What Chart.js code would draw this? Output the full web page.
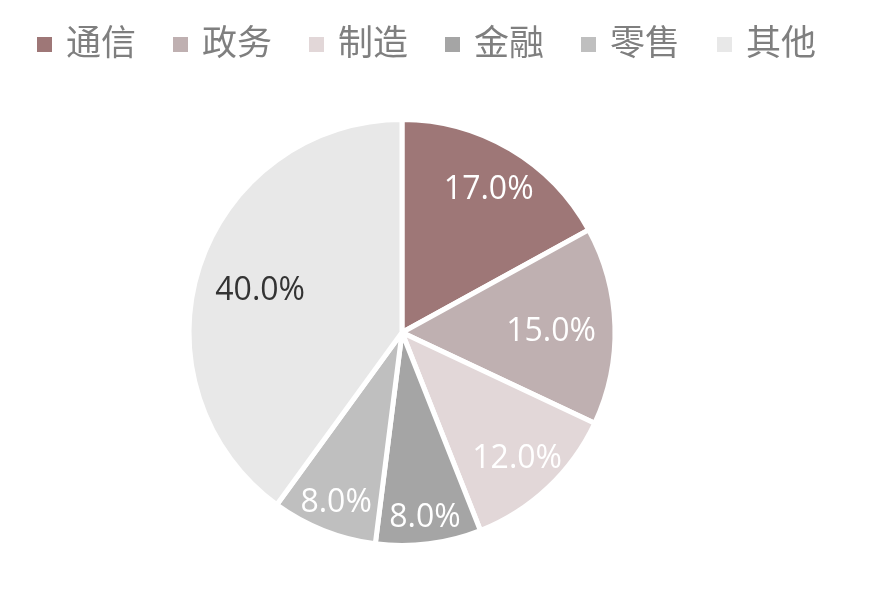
<!DOCTYPE html>
<html>
<head>
<meta charset="utf-8">
<script src="https://cdn.jsdelivr.net/npm/chart.js@4"></script>
<style>
  html, body { margin: 0; padding: 0; background: #fff; }
  #wrap { width: 880px; height: 596px; }
</style>
</head>
<body>
<div id="wrap"><canvas id="pie"></canvas></div>
<script>
const categories = ["通信", "政务", "制造", "金融", "零售", "其他"];
const shares = [17.0, 15.0, 12.0, 8.0, 8.0, 40.0];

const sliceColors = ["#9e7777", "#bfb0b1", "#e2d7d8", "#a5a5a5", "#bfbfbf", "#e8e8e8"];
const labelColors = ["#ffffff", "#ffffff", "#ffffff", "#ffffff", "#ffffff", "#333333"];
// how far out each label sits, as a share of the radius
const labelRadius = [0.8, 0.7, 0.79, 0.86, 0.84, 0.7];

// legend drawn by hand so it stays on one row like the original
const topLegend = {
  id: "topLegend",
  afterDraw(chart) {
    const ctx = chart.ctx;
    ctx.save();
    ctx.font = '35px "Noto Sans CJK SC", sans-serif';
    ctx.textBaseline = "middle";
    let x = 37;
    categories.forEach((name, i) => {
      ctx.fillStyle = sliceColors[i];
      ctx.fillRect(x, 37, 15, 15);
      ctx.fillStyle = "#7f7f7f";
      ctx.fillText(name, x + 29, 42);
      x += 29 + ctx.measureText(name).width + 37;
    });
    ctx.restore();
  }
};

const sliceLabels = {
  id: "sliceLabels",
  afterDatasetsDraw(chart) {
    const ctx = chart.ctx;
    const arcs = chart.getDatasetMeta(0).data;
    ctx.save();
    ctx.font = '32px "Open Sans", sans-serif';
    ctx.textAlign = "center";
    ctx.textBaseline = "middle";
    arcs.forEach((arc, i) => {
      const { x, y, startAngle, endAngle, outerRadius } = arc.getProps(["x", "y", "startAngle", "endAngle", "outerRadius"], true);
      const mid = (startAngle + endAngle) / 2;
      const r = outerRadius * labelRadius[i];
      ctx.fillStyle = labelColors[i];
      ctx.fillText(shares[i].toFixed(1) + "%", x + Math.cos(mid) * r, y + Math.sin(mid) * r + 4);
    });
    ctx.restore();
  }
};

new Chart(document.getElementById("pie"), {
  type: "pie",
  data: {
    labels: categories,
    datasets: [{
      data: shares,
      backgroundColor: sliceColors,
      borderColor: "#ffffff",
      borderWidth: 5
    }]
  },
  options: {
    responsive: true,
    maintainAspectRatio: false,
    animation: false,
    layout: { padding: { top: 117, bottom: 48, left: 0, right: 76 } },
    plugins: {
      legend: { display: false },
      tooltip: { enabled: false }
    }
  },
  plugins: [sliceLabels, topLegend]
});
</script>
</body>
</html>
